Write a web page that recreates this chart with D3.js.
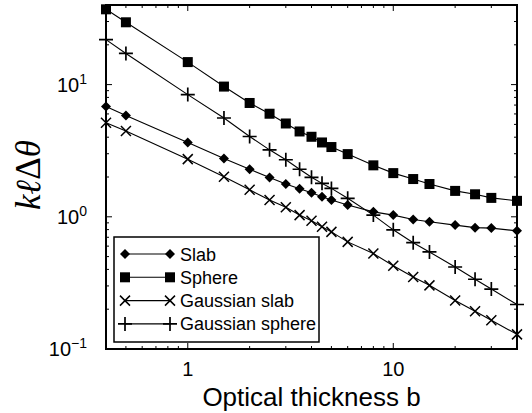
<!DOCTYPE html>
<html><head><meta charset="utf-8">
<script src="https://cdn.jsdelivr.net/npm/d3@7/dist/d3.min.js"></script>
<style>body{margin:0;background:#fff}svg{display:block}</style>
</head><body>
<svg id="chart" width="532" height="413"></svg>
<script>
// ---- data ----
const bValues = [0.4,0.5,1,1.5,2,2.5,3,3.5,4,4.5,5,6,8,10,12.5,15,20,25,30,40];
const slab = [6.84,5.85,3.65,2.76,2.29,1.98,1.77,1.63,1.52,1.42,1.34,1.23,1.09,1.03,0.955,0.917,0.865,0.828,0.821,0.783];
const sphere = [37.1,29.6,14.8,9.66,7.26,6.02,5.08,4.42,4.03,3.65,3.37,2.98,2.45,2.14,1.93,1.77,1.57,1.48,1.39,1.32];
const gaussianSlab = [5.15,4.46,2.73,2.01,1.60,1.34,1.18,1.03,0.933,0.840,0.769,0.646,0.527,0.426,0.350,0.303,0.233,0.193,0.165,0.129];
const gaussianSphere = [21.9,17.2,8.40,5.59,4.05,3.21,2.70,2.29,1.99,1.79,1.64,1.38,1.03,0.797,0.637,0.542,0.417,0.337,0.284,0.217];
const seriesNames = ["Slab","Sphere","Gaussian slab","Gaussian sphere"];
const markerKinds = ["diamond","square","cross","plus"];
const xTickLabels = ["1","10"];
const xTickValues = [1,10];
const yTickValues = [0.1,1,10];
const yTickExponents = ["\u22121","0","1"];
const xDomain = [0.4,40];
const yDomain = [0.1,40];

// ---- layout ----
const L = 106, R = 517, T = 5, B = 349;
const svg = d3.select("#chart");
const x = d3.scaleLog().domain(xDomain).range([L,R]);
const y = d3.scaleLog().domain(yDomain).range([B,T]);
const FONT = "Liberation Sans, Arial, Helvetica, sans-serif";

const seriesData = [slab, sphere, gaussianSlab, gaussianSphere];

function drawMarker(g, kind, cx, cy) {
  if (kind === "diamond") {
    const s = 5;
    g.append("path").attr("d", `M${cx},${cy-s}L${cx+s},${cy}L${cx},${cy+s}L${cx-s},${cy}Z`).attr("fill","#000");
  } else if (kind === "square") {
    const s = 5;
    g.append("rect").attr("x",cx-s).attr("y",cy-s).attr("width",2*s).attr("height",2*s).attr("fill","#000");
  } else if (kind === "cross") {
    const s = 5;
    g.append("path").attr("d",`M${cx-s},${cy-s}L${cx+s},${cy+s}M${cx-s},${cy+s}L${cx+s},${cy-s}`).attr("stroke","#000").attr("stroke-width",1.5);
  } else {
    const s = 7;
    g.append("path").attr("d",`M${cx-s},${cy}L${cx+s},${cy}M${cx},${cy-s}L${cx},${cy+s}`).attr("stroke","#000").attr("stroke-width",1.7);
  }
}

// ---- axes frame with ticks ----
const axG = svg.append("g");
x.ticks().forEach(v => {
  const len = xTickValues.includes(v) ? 6 : 3;
  const px = x(v);
  axG.append("line").attr("x1",px).attr("x2",px).attr("y1",B).attr("y2",B-len).attr("stroke","#000");
  axG.append("line").attr("x1",px).attr("x2",px).attr("y1",T).attr("y2",T+len).attr("stroke","#000");
});
y.ticks().forEach(v => {
  const len = yTickValues.includes(v) ? 6 : 3;
  const py = y(v);
  axG.append("line").attr("x1",L).attr("x2",L+len).attr("y1",py).attr("y2",py).attr("stroke","#000");
  axG.append("line").attr("x1",R).attr("x2",R-len).attr("y1",py).attr("y2",py).attr("stroke","#000");
});
axG.append("rect").attr("x",L).attr("y",T).attr("width",R-L).attr("height",B-T)
  .attr("fill","none").attr("stroke","#000").attr("stroke-width",2);

// tick labels
xTickValues.forEach((v,i) => {
  svg.append("text").attr("x",x(v)).attr("y",B+27).attr("text-anchor","middle")
    .attr("font-family",FONT).attr("font-size",20).text(xTickLabels[i]);
});
yTickValues.forEach((v,i) => {
  const t = svg.append("text").attr("x",L-19).attr("y",y(v)+7).attr("text-anchor","end")
    .attr("font-family",FONT).attr("font-size",20);
  t.append("tspan").text("10");
  t.append("tspan").attr("dy",-8).attr("font-size",14).text(yTickExponents[i]);
});

// axis titles
svg.append("text").attr("x",(L+R)/2).attr("y",406).attr("text-anchor","middle")
  .attr("font-family",FONT).attr("font-size",26).text("Optical thickness b");
const yl = svg.append("text").attr("transform","translate(40,175) rotate(-90)").attr("text-anchor","middle")
  .attr("font-family","Liberation Serif, DejaVu Serif, serif").attr("font-size",35);
yl.append("tspan").attr("font-style","italic").text("k\u2113");
yl.append("tspan").text("\u0394");
yl.append("tspan").attr("font-style","italic").text("\u03B8");

// ---- series ----
const line = d3.line().x(d => x(d[0])).y(d => y(d[1]));
seriesData.forEach((vals, si) => {
  const pts = bValues.map((b,i) => [b, vals[i]]);
  svg.append("path").attr("d", line(pts)).attr("fill","none").attr("stroke","#000").attr("stroke-width",1.1);
  const g = svg.append("g");
  pts.forEach(p => drawMarker(g, markerKinds[si], x(p[0]), y(p[1])));
});

// ---- legend ----
const lg = svg.append("g");
lg.append("rect").attr("x",114).attr("y",237).attr("width",205).attr("height",105)
  .attr("fill","#fff").attr("stroke","#000").attr("stroke-width",1.5);
seriesNames.forEach((name, i) => {
  const cy = 254 + i*23.3;
  lg.append("line").attr("x1",125).attr("x2",170).attr("y1",cy).attr("y2",cy).attr("stroke","#000").attr("stroke-width",1.1);
  drawMarker(lg, markerKinds[i], 125, cy);
  drawMarker(lg, markerKinds[i], 170, cy);
  lg.append("text").attr("x",180).attr("y",cy+6.5).attr("font-family",FONT).attr("font-size",18).text(name);
});
</script>
</body></html>
